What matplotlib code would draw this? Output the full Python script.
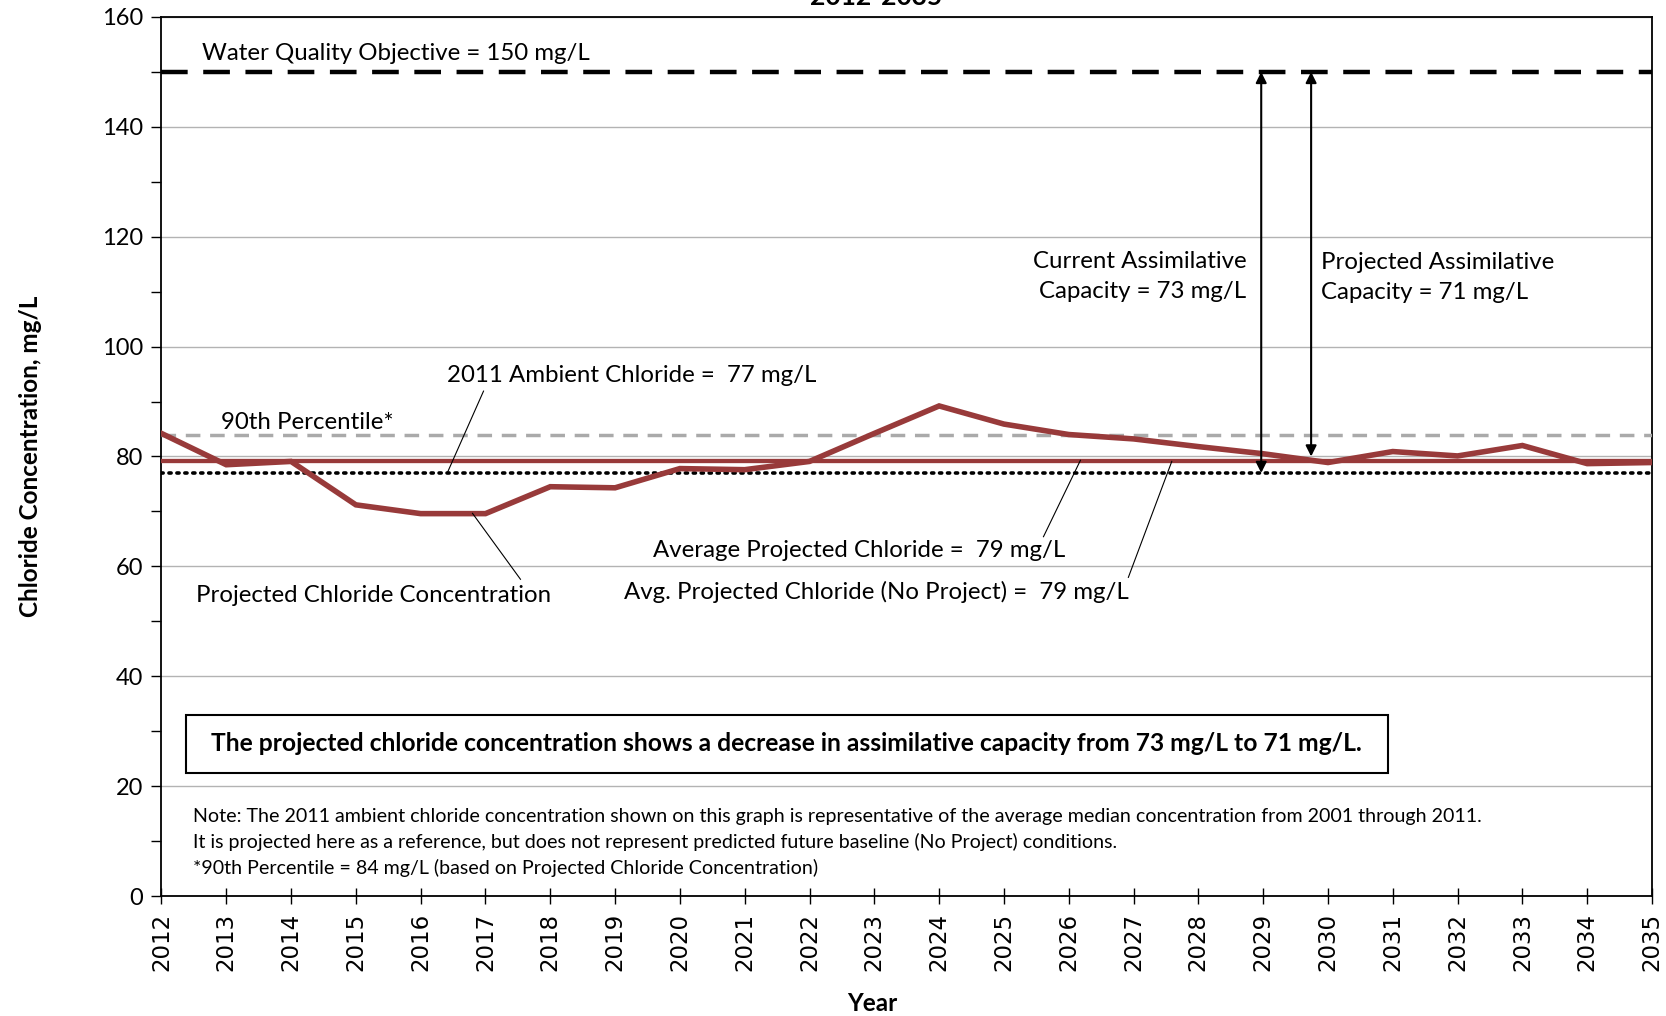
import matplotlib
matplotlib.use("Agg")
import matplotlib.pyplot as plt
from matplotlib.patches import Rectangle
from matplotlib.ticker import MultipleLocator

years = list(range(2012, 2036))
projected = [84.2, 78.5, 79.1, 71.2, 69.6, 69.6, 74.5, 74.3, 77.8, 77.6, 79.1, 84.2,
             89.2, 85.9, 84.0, 83.2, 81.8, 80.5, 78.9, 80.9, 80.1, 82.0, 78.7, 78.9]
wqo = 150
pct90 = 84
ambient_2011 = 77
avg_projected = 79.2
avg_no_project = 79.2
ytick_vals = [0, 20, 40, 60, 80, 100, 120, 140, 160]

FONT = ["Lato", "DejaVu Sans"]
red = "#983a3a"

fig = plt.figure(figsize=(16.66, 10.16), dpi=100)
ax = fig.add_axes([0.0969, 0.1181, 0.8947, 0.8652])

ax.set_xlim(2012, 2035)
ax.set_ylim(0, 160)
ax.set_yticks(ytick_vals)
ax.yaxis.set_minor_locator(MultipleLocator(10))
ax.set_xticks(years)
ax.grid(axis="y", which="major", color="#b3b3b3", lw=1.0, zorder=0)
for s in ax.spines.values():
    s.set_linewidth(1.3)
    s.set_color("black")
ax.tick_params(axis="y", which="both", direction="out", length=7, width=1.0, labelsize=17, pad=6)
ax.tick_params(axis="x", which="both", direction="inout", length=12, width=1.0, labelsize=16.5, pad=6)
for lab in ax.get_yticklabels():
    lab.set_family(FONT)
for lab in ax.get_xticklabels():
    lab.set_rotation(90)
    lab.set_family("DejaVu Sans")

# reference lines
ax.axhline(wqo, color="black", lw=3.2, ls=(0, (6, 3.5)), zorder=3)
ax.axhline(pct90, color="#aaaaaa", lw=2.5, ls=(0, (4.2, 2.8)), zorder=3)
ax.axhline(ambient_2011, color="black", lw=2.6, ls=(0, (0.6, 1.6)), dash_capstyle="round", zorder=3)
ax.axhline(avg_no_project, color=red, lw=3.0, zorder=4)
ax.axhline(avg_projected, color=red, lw=3.0, zorder=4)
ax.plot(years, projected, color=red, lw=4.0, zorder=5, solid_joinstyle="miter")

# arrows
ax.annotate("", xy=(2028.97, wqo), xytext=(2028.97, ambient_2011),
            arrowprops=dict(arrowstyle="<|-|>", color="black", lw=1.5, mutation_scale=16,
                            shrinkA=0, shrinkB=0), zorder=6)
ax.annotate("", xy=(2029.74, wqo), xytext=(2029.74, 80.0),
            arrowprops=dict(arrowstyle="<|-|>", color="black", lw=1.5, mutation_scale=16,
                            shrinkA=0, shrinkB=0), zorder=6)

fs = 17.3
ax.text(2012.62, 153.4, "Water Quality Objective = 150 mg/L", fontsize=fs, family=FONT, va="center")
ax.text(2012.92, 86.1, "90th Percentile*", fontsize=fs, family=FONT, va="center")
ax.text(2016.41, 94.8, "2011 Ambient Chloride =  77 mg/L", fontsize=fs, family=FONT, va="center")
ax.plot([2016.97, 2016.41], [91.9, 77.0], color="black", lw=0.8, zorder=6)
ax.text(2012.54, 54.75, "Projected Chloride Concentration", fontsize=fs, family=FONT, va="center")
ax.plot([2016.80, 2017.54], [69.65, 57.65], color="black", lw=0.8, zorder=6)
ax.text(2019.59, 62.9, "Average Projected Chloride =  79 mg/L", fontsize=fs, family=FONT, va="center")
ax.plot([2025.61, 2026.18], [65.4, 79.3], color="black", lw=0.8, zorder=6)
ax.text(2019.13, 55.3, "Avg. Projected Chloride (No Project) =  79 mg/L", fontsize=fs, family=FONT, va="center")
ax.plot([2026.92, 2027.59], [58.0, 79.1], color="black", lw=0.8, zorder=6)
ax.text(2028.74, 112.8, "Current Assimilative\nCapacity = 73 mg/L", fontsize=fs, family=FONT,
        va="center", ha="right", linespacing=1.55, multialignment="right")
ax.text(2029.90, 112.6, "Projected Assimilative\nCapacity = 71 mg/L", fontsize=fs, family=FONT,
        va="center", ha="left", linespacing=1.55)

# summary box
ax.add_patch(Rectangle((2012.38, 22.4), 2030.92 - 2012.38, 32.9 - 22.4, facecolor="white",
                       edgecolor="black", lw=1.5, zorder=6))
ax.text((2012.38 + 2030.92) / 2, 27.7,
        "The projected chloride concentration shows a decrease in assimilative capacity from 73 mg/L to 71 mg/L.",
        fontsize=17.7, family=FONT, weight="bold", ha="center", va="center", zorder=7)

# note
note_lines = [
    "Note: The 2011 ambient chloride concentration shown on this graph is representative of the average median concentration from 2001 through 2011.",
    "It is projected here as a reference, but does not represent predicted future baseline (No Project) conditions.",
    "*90th Percentile = 84 mg/L (based on Projected Chloride Concentration)",
]
for yv, t in zip([14.5, 9.87, 5.03], note_lines):
    ax.text(2012.49, yv, t, fontsize=14.1, family=FONT, va="center")

ax.set_ylabel("Chloride Concentration, mg/L", fontsize=17.5, family=FONT, weight="bold")
ax.yaxis.set_label_coords(-0.080, 0.5)
ax.set_xlabel("Year", fontsize=17.5, family=FONT, weight="bold")
ax.xaxis.label.set_va("center")
ax.xaxis.set_label_coords(0.477, -0.122)

fig.text(0.526, 1 - 5 / 1016, "2012-2035", fontsize=19, family=FONT, weight="bold",
         ha="center", va="baseline")

fig.savefig("out.png", dpi=100)
